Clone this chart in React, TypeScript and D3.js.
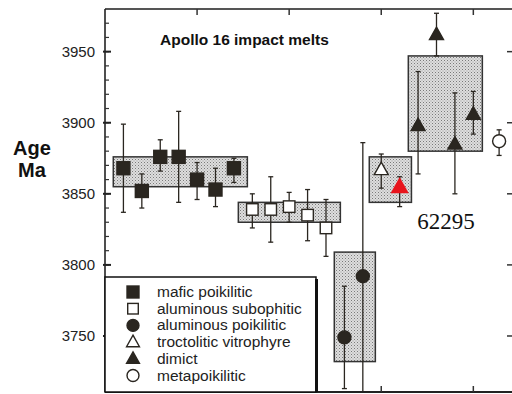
import React from "react";
import * as d3 from "d3";

const W = 512;
const H = 394;

// mafic poikilitic (filled squares)
const maficX = [1, 2, 3, 4, 5, 6, 7];
const maficAge = [3868, 3852, 3876, 3876, 3860, 3853, 3868];
const maficLo = [3837, 3840, 3866, 3844, 3846, 3841, 3858];
const maficHi = [3899, 3864, 3888, 3908, 3872, 3868, 3875];

// aluminous subophitic (open squares)
const subX = [8, 9, 10, 11, 12];
const subAge = [3839, 3839, 3841, 3835, 3826];
const subLo = [3826, 3816, 3830, 3817, 3806];
const subHi = [3850, 3862, 3851, 3853, 3846];

// aluminous poikilitic (filled circles)
const alpX = [13, 14];
const alpAge = [3749, 3792];
const alpLo = [3713, 3700];
const alpHi = [3785, 3886];

// troctolitic vitrophyre (open triangle)
const troX = [15];
const troAge = [3867];
const troLo = [3854];
const troHi = [3878];

// sample 62295 (red triangle)
const redX = [16];
const redAge = [3855];
const redLo = [3841];
const redHi = [3862];

// dimict (filled triangles)
const dimX = [17, 18, 19, 20];
const dimAge = [3898, 3962, 3885, 3906];
const dimLo = [3864, 3947, 3850, 3892];
const dimHi = [3936, 3977, 3921, 3922];

// metapoikilitic (open circle)
const metX = [21.4];
const metAge = [3887];
const metLo = [3877];
const metHi = [3895];

// group boxes
const boxX0 = [0.45, 7.24, 12.45, 14.35, 16.47];
const boxX1 = [7.73, 12.78, 14.68, 16.64, 20.49];
const boxLo = [3855, 3830, 3732, 3844, 3880];
const boxHi = [3876, 3844, 3809, 3876, 3947];

const yMajor = [3750, 3800, 3850, 3900, 3950];
const yMinor = d3.range(3720, 3980, 10);
const xTicks = [5, 10, 15, 20];

const legendLabels = [
  "mafic poikilitic",
  "aluminous subophitic",
  "aluminous poikilitic",
  "troctolitic vitrophyre",
  "dimict",
  "metapoikilitic",
];
const legendShapes = ["fsq", "osq", "fci", "otr", "ftr", "oci"];

const DARK = "#2a2620";
const FONT = "'Liberation Sans', Arial, Helvetica, sans-serif";

const x = d3.scaleLinear().domain([0, 22.1]).range([105, 512]);
const y = d3.scaleLinear().domain([3710.6, 3980]).range([392, 9]);

function Marker({ shape, cx, cy, s = 1, fill }: { shape: string; cx: number; cy: number; s?: number; fill?: string }) {
  const sw = 1.4;
  if (shape === "fsq" || shape === "osq") {
    const a = (shape === "fsq" ? 13 : 11.5) * s;
    return (
      <rect x={cx - a / 2} y={cy - a / 2} width={a} height={a}
        fill={shape === "fsq" ? DARK : "#fff"} stroke={DARK} strokeWidth={sw} />
    );
  }
  if (shape === "fci" || shape === "oci") {
    const r = 6.5 * s;
    return <circle cx={cx} cy={cy} r={r} fill={shape === "fci" ? DARK : "#fff"} stroke={DARK} strokeWidth={sw} />;
  }
  const w = 14 * s;
  const h = 12.5 * s;
  const p = `M${cx},${cy - h * 0.6} L${cx + w / 2},${cy + h * 0.4} L${cx - w / 2},${cy + h * 0.4} Z`;
  const f = fill ?? (shape === "ftr" ? DARK : "#fff");
  return <path d={p} fill={f} stroke={fill ? "none" : DARK} strokeWidth={sw} />;
}

function Series({ xs, ages, lo, hi, shape, s, fill }: any) {
  return (
    <g>
      {xs.map((xv: number, i: number) => {
        const cx = x(xv);
        return (
          <g key={i}>
            <line x1={cx} x2={cx} y1={y(hi[i])} y2={y(lo[i])} stroke={DARK} strokeWidth={1.3} />
            <line x1={cx - 2.5} x2={cx + 2.5} y1={y(hi[i])} y2={y(hi[i])} stroke={DARK} strokeWidth={1.3} />
            <line x1={cx - 2.5} x2={cx + 2.5} y1={y(lo[i])} y2={y(lo[i])} stroke={DARK} strokeWidth={1.3} />
            <Marker shape={shape} cx={cx} cy={y(ages[i])} s={s} fill={fill} />
          </g>
        );
      })}
    </g>
  );
}

export default function App() {
  const legX0 = 105;
  const legY0 = 277;
  const legX1 = 316;
  const legY1 = 392;
  return (
    <svg width={W} height={H} style={{ position: "absolute", left: 0, top: 0, background: "#fff" }}>
      <defs>
        <pattern id="dots" width={3} height={3} patternUnits="userSpaceOnUse">
          <rect width={3} height={3} fill="#dedede" />
          <rect x={0} y={0} width={1} height={1} fill="#7a7a7a" />
          <rect x={1.5} y={1.5} width={1} height={1} fill="#9a9a9a" />
        </pattern>
        <clipPath id="plot">
          <rect x={105} y={9} width={407} height={383} />
        </clipPath>
      </defs>

      {/* Axis label */}
      <text x={32} y={155} textAnchor="middle" fontFamily={FONT} fontWeight="bold" fontSize={20} fill="#111">Age</text>
      <text x={32} y={177} textAnchor="middle" fontFamily={FONT} fontWeight="bold" fontSize={20} fill="#111">Ma</text>

      {/* Y tick labels */}
      {yMajor.map((v) => (
        <text key={v} x={95} y={y(v) + 5.5} textAnchor="end" fontFamily={FONT} fontSize={15} fill="#222">{v}</text>
      ))}

      <g clipPath="url(#plot)">
        {/* group boxes */}
        {boxX0.map((_, i) => (
          <rect key={i} x={x(boxX0[i])} y={y(boxHi[i])} width={x(boxX1[i]) - x(boxX0[i])} height={y(boxLo[i]) - y(boxHi[i])}
            fill="url(#dots)" stroke="#333" strokeWidth={1.5} />
        ))}

        <Series xs={maficX} ages={maficAge} lo={maficLo} hi={maficHi} shape="fsq" />
        <Series xs={subX} ages={subAge} lo={subLo} hi={subHi} shape="osq" />
        <Series xs={alpX} ages={alpAge} lo={alpLo} hi={alpHi} shape="fci" />
        <Series xs={troX} ages={troAge} lo={troLo} hi={troHi} shape="otr" />
        <Series xs={redX} ages={redAge} lo={redLo} hi={redHi} shape="ftr" s={1.3} fill="#e8141c" />
        <Series xs={dimX} ages={dimAge} lo={dimLo} hi={dimHi} shape="ftr" />
        <Series xs={metX} ages={metAge} lo={metLo} hi={metHi} shape="oci" />
      </g>

      {/* sample label */}
      <text x={446} y={229} textAnchor="middle" fontFamily="'Liberation Serif', 'Times New Roman', serif" fontSize={23} fill="#111">62295</text>

      {/* title */}
      <text x={160} y={44.5} fontFamily={FONT} fontWeight="bold" fontSize={15.5} fill="#111">Apollo 16 impact melts</text>

      {/* frame */}
      <line x1={105} x2={512} y1={9} y2={9} stroke="#555" strokeWidth={2} />
      <line x1={105} x2={105} y1={9} y2={392} stroke="#222" strokeWidth={1.6} />
      <line x1={105} x2={512} y1={392} y2={392} stroke="#222" strokeWidth={2} />

      {/* y ticks */}
      {yMinor.map((v) => (
        <line key={"m" + v} x1={105} x2={109} y1={y(v)} y2={y(v)} stroke="#333" strokeWidth={1.2} />
      ))}
      {yMajor.map((v) => (
        <g key={"M" + v}>
          <line x1={103} x2={111} y1={y(v)} y2={y(v)} stroke="#222" strokeWidth={2} />
          <line x1={507} x2={512} y1={y(v)} y2={y(v)} stroke="#333" strokeWidth={1.5} />
        </g>
      ))}
      {/* x ticks */}
      {xTicks.map((v) => (
        <g key={"x" + v}>
          <line x1={x(v)} x2={x(v)} y1={9} y2={15} stroke="#333" strokeWidth={1.5} />
          <line x1={x(v)} x2={x(v)} y1={392} y2={386} stroke="#333" strokeWidth={1.5} />
        </g>
      ))}

      {/* legend */}
      <rect x={legX0} y={legY0} width={legX1 - legX0} height={legY1 - legY0} fill="#fff" stroke="#111" strokeWidth={1.5} />
      <line x1={legX1 + 0.5} x2={legX1 + 0.5} y1={legY0 + 2} y2={legY1} stroke="#111" strokeWidth={3} />
      {legendLabels.map((lab, i) => {
        const cy = 292 + i * 16.7;
        return (
          <g key={lab}>
            <Marker shape={legendShapes[i]} cx={133} cy={cy} s={0.92} />
            <text x={157} y={cy + 5} fontFamily={FONT} fontSize={15.5} fill="#222">{lab}</text>
          </g>
        );
      })}
    </svg>
  );
}
